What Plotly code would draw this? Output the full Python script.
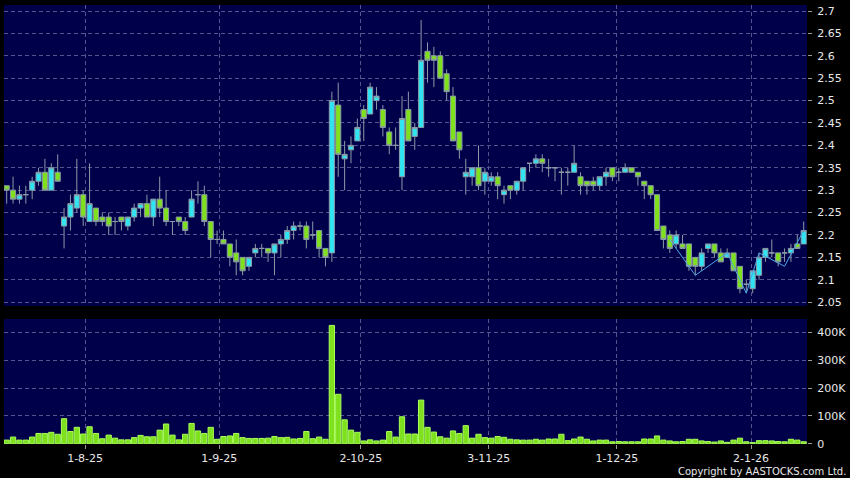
import plotly.graph_objects as go
from plotly.subplots import make_subplots

# ---- data (one entry per trading day, index 0..125) ----
open_ = [2.31,2.30,2.28,2.29,2.30,2.32,2.34,2.30,2.34,2.22,2.24,2.26,2.29,2.23,2.26,2.24,2.24,2.23,2.24,2.22,
         2.24,2.26,2.27,2.24,2.28,2.26,2.23,2.24,2.23,2.24,2.29,2.29,2.23,2.19,2.19,2.18,2.16,2.15,2.13,2.16,
         2.17,2.17,2.16,2.18,2.19,2.21,2.22,2.22,2.20,2.21,2.17,2.16,2.49,2.37,2.39,2.41,2.48,2.47,2.50,2.48,
         2.43,2.40,2.33,2.48,2.42,2.44,2.61,2.60,2.60,2.56,2.51,2.43,2.33,2.33,2.35,2.32,2.32,2.33,2.29,2.31,
         2.30,2.32,2.36,2.36,2.37,2.35,2.35,2.34,2.34,2.34,2.33,2.32,2.32,2.31,2.33,2.35,2.34,2.34,2.35,2.34,
         2.32,2.31,2.29,2.22,2.20,2.18,2.18,2.18,2.15,2.13,2.17,2.18,2.16,2.15,2.16,2.13,2.09,2.08,2.11,2.15,
         2.16,2.16,2.16,2.16,2.18,2.18]
high = [2.31,2.33,2.31,2.31,2.33,2.35,2.37,2.36,2.38,2.26,2.29,2.37,2.30,2.36,2.26,2.25,2.25,2.24,2.24,2.24,
        2.27,2.27,2.29,2.28,2.33,2.30,2.23,2.24,2.24,2.30,2.32,2.31,2.23,2.21,2.21,2.18,2.19,2.15,2.15,2.18,
        2.18,2.17,2.18,2.20,2.22,2.23,2.23,2.23,2.23,2.21,2.17,2.52,2.54,2.41,2.42,2.46,2.49,2.54,2.53,2.49,
        2.44,2.44,2.51,2.52,2.45,2.68,2.63,2.62,2.61,2.57,2.53,2.43,2.37,2.35,2.40,2.35,2.34,2.34,2.31,2.31,
        2.32,2.35,2.36,2.38,2.38,2.37,2.35,2.35,2.35,2.40,2.34,2.32,2.33,2.33,2.35,2.35,2.35,2.36,2.35,2.34,
        2.32,2.31,2.29,2.22,2.21,2.21,2.20,2.18,2.15,2.17,2.18,2.18,2.17,2.17,2.16,2.13,2.10,2.12,2.16,2.17,
        2.19,2.16,2.17,2.18,2.20,2.23]
low = [2.27,2.27,2.27,2.27,2.28,2.31,2.30,2.30,2.32,2.17,2.21,2.25,2.22,2.23,2.22,2.22,2.20,2.20,2.21,2.21,
       2.23,2.24,2.24,2.22,2.24,2.22,2.20,2.22,2.20,2.24,2.27,2.22,2.15,2.18,2.18,2.13,2.11,2.11,2.12,2.15,
       2.15,2.14,2.11,2.15,2.18,2.19,2.21,2.17,2.19,2.15,2.13,2.14,2.33,2.30,2.36,2.41,2.41,2.47,2.48,2.42,
       2.38,2.39,2.30,2.41,2.39,2.44,2.54,2.53,2.55,2.50,2.41,2.37,2.29,2.31,2.30,2.29,2.31,2.28,2.27,2.28,
       2.29,2.30,2.34,2.35,2.34,2.33,2.32,2.29,2.31,2.34,2.29,2.29,2.30,2.30,2.31,2.32,2.32,2.34,2.34,2.31,
       2.28,2.28,2.21,2.17,2.16,2.17,2.17,2.12,2.11,2.12,2.16,2.15,2.14,2.15,2.12,2.07,2.07,2.07,2.10,2.14,
       2.15,2.13,2.14,2.14,2.17,2.18]
close = [2.30,2.28,2.29,2.29,2.32,2.34,2.30,2.35,2.32,2.24,2.27,2.29,2.24,2.27,2.23,2.23,2.22,2.23,2.23,2.24,
         2.26,2.27,2.24,2.28,2.26,2.23,2.23,2.23,2.21,2.28,2.29,2.23,2.19,2.19,2.18,2.15,2.14,2.12,2.15,2.17,
         2.17,2.16,2.18,2.19,2.21,2.22,2.22,2.19,2.20,2.17,2.15,2.50,2.38,2.38,2.40,2.44,2.46,2.53,2.51,2.44,
         2.40,2.40,2.46,2.41,2.44,2.59,2.59,2.59,2.55,2.52,2.41,2.39,2.34,2.35,2.31,2.34,2.33,2.31,2.30,2.30,
         2.32,2.35,2.36,2.37,2.36,2.35,2.35,2.34,2.34,2.36,2.31,2.31,2.31,2.33,2.34,2.33,2.34,2.35,2.34,2.33,
         2.31,2.29,2.21,2.19,2.17,2.20,2.17,2.13,2.13,2.16,2.18,2.16,2.14,2.16,2.12,2.08,2.09,2.12,2.15,2.17,
         2.16,2.14,2.16,2.17,2.17,2.21]
volume = [13,24,13,13,24,37,37,41,34,90,44,59,35,61,37,18,31,20,14,14,
          22,30,25,25,49,71,31,14,34,73,46,37,59,16,26,28,37,22,19,19,
          19,20,26,22,23,17,19,44,18,24,16,426,178,86,49,41,10,14,10,13,
          44,24,97,35,35,157,59,42,25,20,46,37,65,20,34,22,20,26,23,16,
          14,13,13,16,13,17,17,34,11,17,24,16,10,13,13,7,8,7,7,7,
          17,17,28,13,10,7,8,16,16,10,8,6,10,5,13,20,7,4,11,11,
          10,8,7,16,13,7]  # thousands of shares

# overlay line (light blue) in the last weeks
line_idx = [104, 108, 113, 116, 118, 122, 125]
line_val = [2.19, 2.11, 2.16, 2.07, 2.16, 2.13, 2.21]

# axis ticks
date_tick_pos = [12.3, 33.35, 55.55, 75.6, 95.7, 116.75]
date_tick_labels = ["1-8-25", "1-9-25", "2-10-25", "3-11-25", "1-12-25", "2-1-26"]
price_ticks = [2.05, 2.1, 2.15, 2.2, 2.25, 2.3, 2.35, 2.4, 2.45, 2.5, 2.55, 2.6, 2.65, 2.7]
vol_ticks = [0, 100, 200, 300, 400]
vol_tick_labels = ["0", "100K", "200K", "300K", "400K"]

x = list(range(len(close)))
vol_shares = [v * 1000 for v in volume]

BG = "#00004a"
GRID = "#54548e"
TXT = "#e8e8e8"
CYAN = "#30e4f2"
GREEN = "#7fe01e"
EDGE = "#8a9aa6"
DASH = "4px,3px"

fig = make_subplots(rows=2, cols=1, shared_xaxes=False, vertical_spacing=0.0)

fig.add_trace(go.Candlestick(
    x=x, open=open_, high=high, low=low, close=close,
    increasing=dict(fillcolor=CYAN, line=dict(color=EDGE, width=1)),
    decreasing=dict(fillcolor=GREEN, line=dict(color=EDGE, width=1)),
    whiskerwidth=0, showlegend=False, hoverinfo="skip"), row=1, col=1)

fig.add_trace(go.Scatter(
    x=line_idx, y=line_val, mode="lines",
    line=dict(color="#4aa6e6", width=1), showlegend=False, hoverinfo="skip"), row=1, col=1)

fig.add_trace(go.Bar(
    x=x, y=vol_shares, marker=dict(color=GREEN, line=dict(color="#a8ff5a", width=1)),
    showlegend=False, hoverinfo="skip"), row=2, col=1)

xr = [-0.42, 125.52]
common_x = dict(range=xr, tickmode="array", tickvals=date_tick_pos, showgrid=True,
                gridcolor=GRID, griddash=DASH, gridwidth=1, zeroline=False,
                showline=False, fixedrange=True)
fig.update_layout(
    width=850, height=478,
    paper_bgcolor="black", plot_bgcolor=BG,
    margin=dict(l=4, r=40, t=5, b=34),
    font=dict(family="DejaVu Sans", size=11, color=TXT),
    bargap=0.17, boxgap=0.2, boxgroupgap=0.0,
    xaxis=dict(common_x, domain=[0, 1], ticktext=[""] * len(date_tick_pos), ticks="",
               rangeslider=dict(visible=False), anchor="y"),
    xaxis2=dict(common_x, domain=[0, 1], ticktext=date_tick_labels, ticks="outside",
                ticklen=4, tickcolor="#9a9a9a", anchor="y2"),
    yaxis=dict(domain=[0.3144, 1.0], range=[2.0415, 2.7134], side="right",
               tickmode="array", tickvals=price_ticks, ticktext=[f"{v:g}" for v in price_ticks],
               ticks="outside", ticklen=4, tickcolor="#9a9a9a", ticklabelstandoff=3,
               showgrid=True, gridcolor=GRID, griddash=DASH, zeroline=False, anchor="x"),
    yaxis2=dict(domain=[0, 0.2847], range=[-1000, 449000], side="right",
                tickmode="array", tickvals=[v * 1000 for v in vol_ticks], ticktext=vol_tick_labels,
                ticks="outside", ticklen=4, tickcolor="#9a9a9a", ticklabelstandoff=3,
                showgrid=True, gridcolor=GRID, griddash=DASH, zeroline=False, anchor="x2"),
)

fig.add_annotation(text="Copyright by AASTOCKS.com Ltd.", xref="paper", yref="paper",
                   x=1.0505, y=-0.063, xanchor="right", yanchor="middle", showarrow=False,
                   font=dict(family="DejaVu Sans", size=10, color=TXT))

fig.write_html("out.html", config={"displayModeBar": False},
               post_script="document.body.style.margin='0px';document.body.style.overflow='hidden';")
